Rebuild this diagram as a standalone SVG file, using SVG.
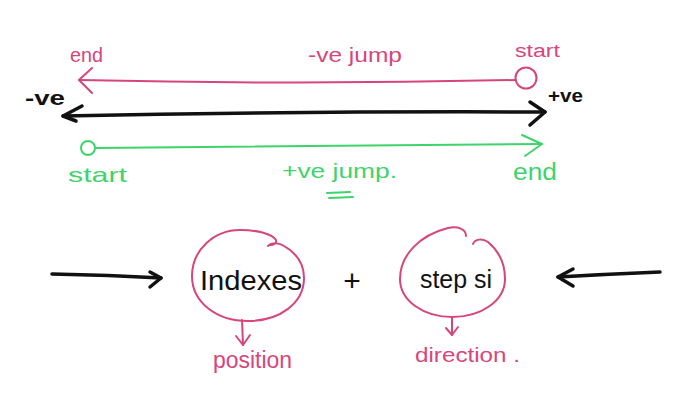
<svg xmlns="http://www.w3.org/2000/svg" width="685" height="408" viewBox="0 0 685 408">
<style>
.pk{fill:none;stroke:#d6467c;stroke-width:2;stroke-linecap:round;stroke-linejoin:round}
.gr{fill:none;stroke:#3fd36c;stroke-width:2;stroke-linecap:round;stroke-linejoin:round}
.bk{fill:none;stroke:#111;stroke-width:3.5;stroke-linecap:round;stroke-linejoin:round}
.t{font-family:"Liberation Sans",Arial,sans-serif}
.tp{fill:#d6467c}
.tg{fill:#3fd36c}
.tb{fill:#111}
</style>
<rect width="685" height="408" fill="#fff"/>
<g id="connectors">
  <path class="pk" d="M515,80 Q300,85 79,80"/>
  <path class="pk" d="M92,68 L79,80 L92,93"/>
  <path class="bk" d="M63,116 Q300,111 545,112"/>
  <path class="bk" d="M82,106 L63,116 L76,121"/>
  <path class="bk" d="M530,102 L545,112 L530,125"/>
  <path class="gr" d="M96,148 Q320,146 542,144"/>
  <path class="gr" d="M522,135 L542,144 L525,156"/>
  <path class="gr" d="M327,193 L350,192 M329,198 L353,197"/>
  <path class="bk" d="M52,274 Q110,275 161,278"/>
  <path class="bk" d="M150,272 L161,278 L150,287"/>
  <path class="bk" d="M660,272 Q610,274 558,277"/>
  <path class="bk" d="M573,269 L558,277 L573,286"/>
  <path class="pk" d="M242,320 L243,345"/>
  <path class="pk" d="M236,336 L243,345 L250,335"/>
  <path class="pk" d="M452,318 L452,335"/>
  <path class="pk" d="M446,328 L452,335 L458,327"/>
</g>
<g id="start-neg">
  <circle class="pk" cx="526" cy="78" r="10.5"/>
  <text class="t tp" x="515" y="57" font-size="18" textLength="45" lengthAdjust="spacingAndGlyphs">start</text>
</g>
<g id="end-neg"><text class="t tp" x="70" y="62" font-size="20" textLength="33" lengthAdjust="spacingAndGlyphs">end</text></g>
<g id="neg-jump"><text class="t tp" x="308" y="62" font-size="21" textLength="94" lengthAdjust="spacingAndGlyphs">-ve jump</text></g>
<g id="neg-label"><text class="t tb" x="25" y="105" font-size="20" font-weight="bold" textLength="40" lengthAdjust="spacingAndGlyphs">-ve</text></g>
<g id="pos-label"><text class="t tb" x="548" y="102" font-size="19" font-weight="bold" textLength="35" lengthAdjust="spacingAndGlyphs">+ve</text></g>
<g id="start-pos">
  <circle class="gr" cx="88" cy="148" r="7"/>
  <text class="t tg" x="68" y="182" font-size="21" textLength="59" lengthAdjust="spacingAndGlyphs">start</text>
</g>
<g id="pos-jump"><text class="t tg" x="282" y="178" font-size="21" textLength="115" lengthAdjust="spacingAndGlyphs">+ve jump.</text></g>
<g id="end-pos"><text class="t tg" x="513" y="180" font-size="23" textLength="44" lengthAdjust="spacingAndGlyphs">end</text></g>
<g id="indexes">
  <path class="pk" d="M268,246 C272,242 280,243 284,246 C298,254 304,266 304,278 C304,303 280,321 248,321 C216,321 192,302 192,276 C192,250 214,230 240,230 C258,230 272,234 276,240 C277,243 274,245 270,245"/>
  <text class="t tb" x="200" y="290" font-size="27" textLength="102" lengthAdjust="spacingAndGlyphs">Indexes</text>
</g>
<g id="plus"><text class="t tb" x="352" y="291" font-size="30" text-anchor="middle">+</text></g>
<g id="step">
  <path class="pk" d="M473,244 C475,239 482,238 488,242 C500,252 505,265 505,279 C505,301 481,317 452,317 C424,317 400,301 400,279 C400,255 420,235 448,228 C458,226 466,229 466,236"/>
  <text class="t tb" x="420" y="288" font-size="25" textLength="72" lengthAdjust="spacingAndGlyphs">step si</text>
</g>
<g id="position"><text class="t tp" x="213" y="368" font-size="23" textLength="79" lengthAdjust="spacingAndGlyphs">position</text></g>
<g id="direction"><text class="t tp" x="415" y="362" font-size="21" textLength="105" lengthAdjust="spacingAndGlyphs">direction .</text></g>
</svg>
